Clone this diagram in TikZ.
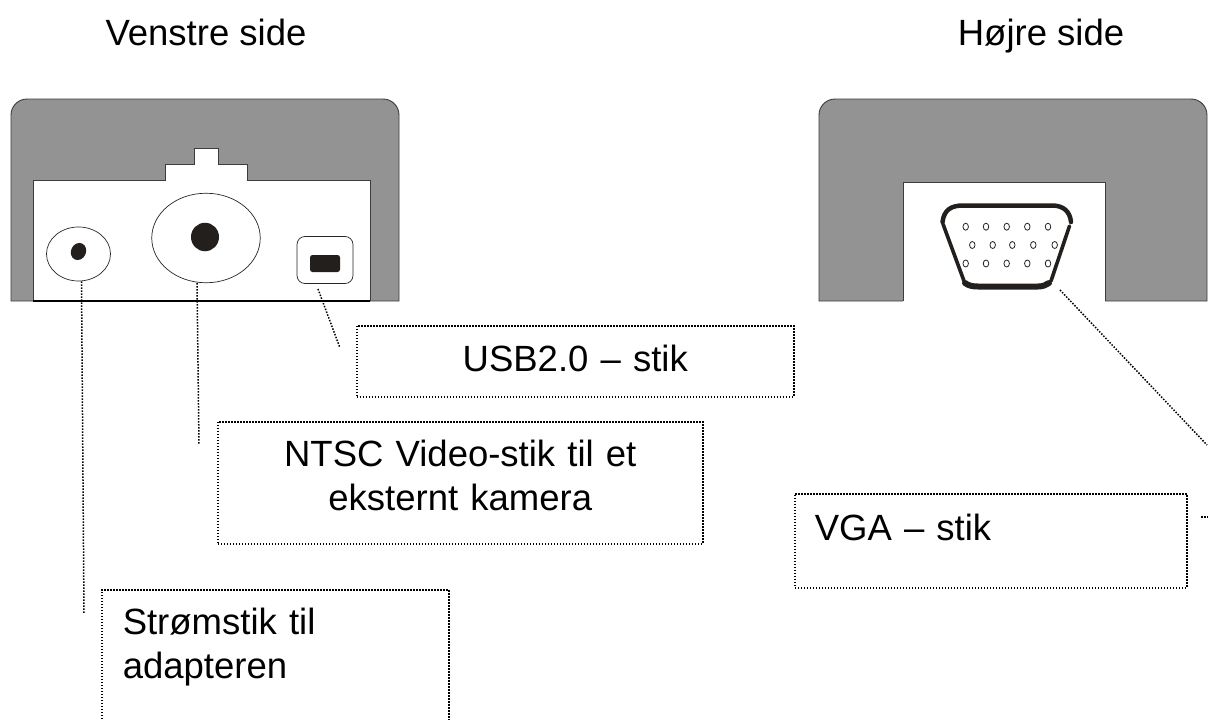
\documentclass[tikz,border=0pt]{standalone}
\usepackage{fontspec}
\setmainfont{Liberation Sans}
\usetikzlibrary{shapes.geometric}
\definecolor{bodygray}{RGB}{147,147,147}
\definecolor{edgegray}{RGB}{60,60,60}
\definecolor{holeblack}{RGB}{35,31,28}
\begin{document}
\begin{tikzpicture}[x=1pt, y=-1pt, font=\fontsize{36.5}{43.5}\selectfont,
 bodyshape/.style={fill=bodygray, draw=edgegray, line width=0.9pt},
 panelshape/.style={fill=white, draw=edgegray, line width=0.9pt},
 portnode/.style={ellipse, draw=black!85, fill=white, line width=0.7pt, inner sep=0pt},
 holenode/.style={ellipse, fill=holeblack, inner sep=0pt},
 pinnode/.style={ellipse, draw=black!85, fill=white, line width=0.8pt, inner sep=0pt, minimum width=5.5pt, minimum height=7pt},
 labelbox/.style={draw=black, line width=1.5pt, dash pattern=on 1.5pt off 1.5pt, anchor=north west, inner ysep=0pt, inner xsep=0pt},
 leader/.style={black, line width=1.5pt, dash pattern=on 1.5pt off 1.5pt},
 vgaline/.style={holeblack, line cap=round}, ]

    \clip (0,0) rectangle (1208,720);

    \node[anchor=base] (lefttitle) at (206,45) {Venstre side};
    \node[anchor=base] (righttitle) at (1041,45) {Højre side};

    % left side
    \draw[bodyshape] (11,301) [rounded corners=16pt] -- (11,99) -- (399,99) -- (399,150) [sharp corners] -- (399,301) -- cycle;
    \draw[panelshape] (33,301) -- (33,180) -- (165,180) -- (165,164) -- (194,164) -- (194,148) -- (218,148) -- (218,164) -- (247,164) -- (247,180) -- (370,180) -- (370,301);
    \draw[black, line width=1.3pt] (33,301) -- (370,301);

    \node[portnode, minimum width=64pt, minimum height=54pt] (powerport) at (78.5,254) {};
    \node[holenode, minimum width=15pt, minimum height=17.5pt, rotate=-25] (powerhole) at (78.5,251.5) {};
    \node[portnode, minimum width=108.5pt, minimum height=89.5pt] (videoport) at (206,238) {};
    \node[holenode, minimum width=28pt, minimum height=28.5pt] (videohole) at (205,237) {};
    \node[draw=black!85, fill=white, line width=0.7pt, rounded corners=8pt, minimum width=56pt, minimum height=47pt, inner sep=0pt] (usbport) at (325,260) {};
    \node[fill=holeblack, rounded corners=2.5pt, minimum width=30pt, minimum height=17pt, inner sep=0pt] (usbhole) at (325,263.5) {};

    % right side
    \draw[bodyshape] (819,301) [rounded corners=16pt] -- (819,99) -- (1207,99) -- (1207,150) [sharp corners] -- (1207,301) -- cycle;
    \draw[panelshape] (903,301) -- (903,182) -- (1105,182) -- (1105,301);
    \draw[white, line width=0.9pt] (903,301) -- (1105,301);

    \draw[vgaline, line width=4.5pt] (942.5,222) .. controls (944,210) and (951,205.5) .. (963,205.5) -- (1052,205.5) .. controls (1064,205.5) and (1070,212) .. (1071,222);
    \draw[vgaline, line width=3.6pt] (1069.5,226) -- (1051,281);
    \draw[vgaline, line width=3.6pt] (943,224) -- (964,281);
    \draw[vgaline, line width=6pt] (965,283) .. controls (969,286) and (973,286.5) .. (978,286.5) -- (1038,286.5) .. controls (1043,286.5) and (1046,285) .. (1049,283);

    \foreach \px [count=\pi] in {965.7,986,1006.7,1027.3,1048} {
        \node[pinnode] (pinA\pi) at (\px,226.7) {};
        \node[pinnode] (pinC\pi) at (\px,263.5) {};
    }
    \foreach \px [count=\pi] in {972.3,992.7,1012.3,1033.3,1054.7} {
        \node[pinnode] (pinB\pi) at (\px,245) {};
    }

    % labels
    \node[labelbox, text width=437pt, align=center, text height=46pt, text depth=25pt] (usbbox) at (356,325) {USB2.0 – stik};
    \node[labelbox, text width=485pt, align=center, text height=45pt, text depth=77pt] (ntscbox) at (217,421) {NTSC Video-stik til et\\eksternt kamera};
    \node[labelbox, inner xsep=21pt, text width=305pt, align=left, text height=45pt, text depth=150pt] (powerbox) at (101,589) {Strømstik til\\adapteren};
    \node[labelbox, inner xsep=20pt, text width=352pt, align=left, text height=47pt, text depth=47pt] (vgabox) at (794,493) {VGA – stik};

    % leaders
    \coordinate (powerend) at (84,613);
    \coordinate (videoend) at (199,445);
    \coordinate (usbstart) at (318,289);
    \coordinate (usbend) at (340,348);
    \coordinate (vgastart) at (1060,290);
    \coordinate (vgaend) at (1207,445);
    \coordinate (stubstart) at (1201,517);
    \coordinate (stubend) at (1208,517);

    \draw[leader] (powerport.south) ++(3,0) -- (powerend);
    \draw[leader] (videoport.south) ++(-9,0) -- (videoend);
    \draw[leader] (usbstart) -- (usbend);
    \draw[leader] (vgastart) -- (vgaend);
    \draw[leader] (stubstart) -- (stubend);
\end{tikzpicture}
\end{document}
